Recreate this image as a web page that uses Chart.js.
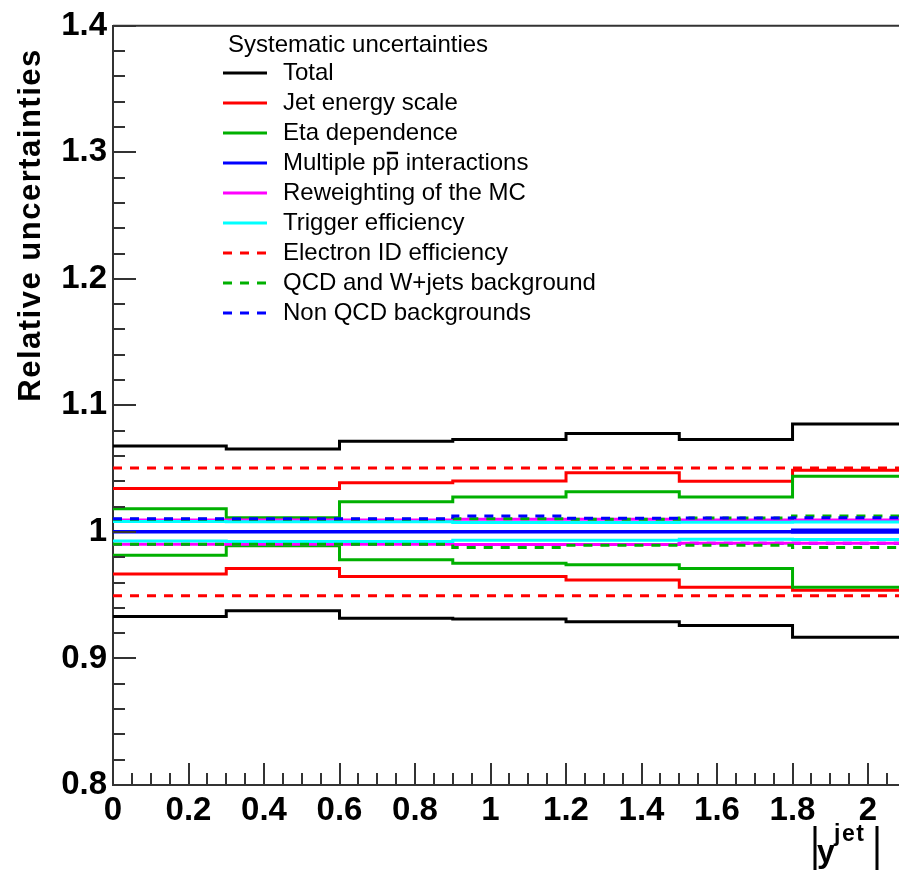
<!DOCTYPE html>
<html>
<head>
<meta charset="utf-8">
<script src="https://cdn.jsdelivr.net/npm/chart.js@4.4.1/dist/chart.umd.min.js"></script>
<style>
  html, body { margin: 0; padding: 0; background: #fff; overflow: hidden; }
  #wrap { width: 899px; height: 873px; }
</style>
</head>
<body>
<div id="wrap"><canvas id="c" width="899" height="873"></canvas></div>
<script>
// ── Data ───────────────────────────────────────────────────────────────────
// bin edges in |y_jet|, 7 bins of 0.3
const binEdges = [0, 0.3, 0.6, 0.9, 1.2, 1.5, 1.8, 2.1];

const totalUp   = [1.068, 1.0656, 1.0717, 1.073, 1.0777, 1.073, 1.0853];
const totalLo   = [0.9331, 0.9378, 0.9317, 0.9312, 0.929, 0.926, 0.9168];
const jesUp     = [1.0344, 1.0344, 1.0388, 1.0402, 1.0467, 1.040, 1.0488];
const jesLo     = [0.9667, 0.9711, 0.9648, 0.9648, 0.962, 0.9562, 0.954];
const etaUp     = [1.0184, 1.0112, 1.0239, 1.0276, 1.0318, 1.0276, 1.044];
const etaLo     = [0.9816, 0.989, 0.978, 0.9753, 0.974, 0.9711, 0.9562];
const mpiUp     = [1.0003, 1.0003, 1.0003, 1.0003, 1.0003, 1.0003, 1.0016];
const mpiLo     = [0.9999, 0.9999, 0.9999, 0.9999, 0.9999, 0.9999, 0.9998];
const reweiUp   = [1.0094, 1.0094, 1.0094, 1.010, 1.010, 1.0094, 1.0094];
const reweiLo   = [0.9903, 0.9903, 0.9903, 0.990, 0.990, 0.9911, 0.991];
const trigUp    = [1.0083, 1.0080, 1.0080, 1.0075, 1.0075, 1.0076, 1.0078];
const trigLo    = [0.9929, 0.9925, 0.9925, 0.9935, 0.9935, 0.9942, 0.994];
const eleUp     = [1.0505, 1.0505, 1.0505, 1.0505, 1.0505, 1.0505, 1.0505];
const eleLo     = [0.9495, 0.9495, 0.9495, 0.9495, 0.9495, 0.9495, 0.9495];
const qcdUp     = [1.010, 1.010, 1.010, 1.0105, 1.010, 1.011, 1.0126];
const qcdLo     = [0.9903, 0.9903, 0.9903, 0.9877, 0.9895, 0.9895, 0.9877];
const nonQcdUp  = [1.0105, 1.0105, 1.0105, 1.0126, 1.0108, 1.011, 1.0113];
const nonQcdLo  = [0.990, 0.990, 0.990, 0.990, 0.990, 0.991, 0.991];

const seriesNames = [
  'Total', 'Jet energy scale', 'Eta dependence', 'Multiple pp interactions',
  'Reweighting of the MC', 'Trigger efficiency', 'Electron ID efficiency',
  'QCD and W+jets background', 'Non QCD backgrounds'
];
const legendTitle = 'Systematic uncertainties';
const yTitle = 'Relative uncertainties';

const yMin = 0.8, yMax = 1.4, yMajor = 0.1, yMinor = 0.02;
const xMin = 0, xMax = 2.082, xMajor = 0.2, xMinor = 0.05;

// ── Styling ────────────────────────────────────────────────────────────────
const FONT = '"Liberation Sans", Arial, Helvetica, sans-serif';
const AXIS = '#333';
const DASH = [9, 8];

const series = [
  { name: seriesNames[0], up: totalUp,  lo: totalLo,  color: '#000000', dash: [] },
  { name: seriesNames[1], up: jesUp,    lo: jesLo,    color: '#ff0000', dash: [] },
  { name: seriesNames[2], up: etaUp,    lo: etaLo,    color: '#00b000', dash: [] },
  { name: seriesNames[3], up: mpiUp,    lo: mpiLo,    color: '#0000ff', dash: [] },
  { name: seriesNames[4], up: reweiUp,  lo: reweiLo,  color: '#ff00ff', dash: [] },
  { name: seriesNames[5], up: trigUp,   lo: trigLo,   color: '#00ffff', dash: [] },
  { name: seriesNames[6], up: eleUp,    lo: eleLo,    color: '#ff0000', dash: DASH },
  { name: seriesNames[7], up: qcdUp,    lo: qcdLo,    color: '#00b000', dash: DASH },
  { name: seriesNames[8], up: nonQcdUp, lo: nonQcdLo, color: '#0000ff', dash: DASH },
];

function toSteps(vals) {
  return binEdges.map((x, i) => ({ x, y: vals[Math.min(i, vals.length - 1)] }));
}

function mkDataset(label, vals, s) {
  // 'before' keeps the bin value flat until the next edge, then steps
  return {
    label, data: toSteps(vals), stepped: 'before',
    borderColor: s.color, borderWidth: 3, borderDash: s.dash,
    pointRadius: 0, fill: false, tension: 0,
  };
}

// first dataset is drawn on top, so go through the legend backwards
const datasets = [];
[...series].reverse().forEach(s => {
  datasets.push(mkDataset(s.name + ' up', s.up, s));
  if (s.name !== seriesNames[8]) datasets.push(mkDataset(s.name + ' down', s.lo, s));
});
datasets.push(mkDataset(seriesNames[8] + ' down', nonQcdLo, series[8]));

const isMultiple = (v, step) => Math.abs(v / step - Math.round(v / step)) < 1e-6;

// ── ROOT-style frame, inward ticks, titles and legend ──────────────────────
const rootStyle = {
  id: 'rootStyle',
  afterDraw(chart) {
    const { ctx, chartArea: a, scales: { x, y } } = chart;
    ctx.save();

    // ticks
    ctx.strokeStyle = AXIS;
    ctx.lineWidth = 2;
    ctx.setLineDash([]);
    ctx.beginPath();
    for (let k = 0; ; k++) {
      const v = yMin + k * yMinor;
      if (v > yMax + 1e-9) break;
      const py = Math.round(y.getPixelForValue(v));
      const len = isMultiple(v, yMajor) ? 23 : 12;
      ctx.moveTo(a.left, py); ctx.lineTo(a.left + len, py);
    }
    for (let k = 0; ; k++) {
      const v = xMin + k * xMinor;
      if (v > xMax + 1e-9) break;
      const px = Math.round(x.getPixelForValue(v));
      const len = isMultiple(v, xMajor) ? 22 : 12;
      ctx.moveTo(px, a.bottom); ctx.lineTo(px, a.bottom - len);
    }
    ctx.moveTo(a.left, a.top); ctx.lineTo(a.right, a.top);
    ctx.stroke();

    // y title
    ctx.fillStyle = '#000';
    ctx.save();
    ctx.translate(31, 225);
    ctx.rotate(-Math.PI / 2);
    ctx.font = 'bold 31px ' + FONT;
    ctx.letterSpacing = '1.5px';
    ctx.textAlign = 'center';
    ctx.textBaseline = 'middle';
    ctx.fillText(yTitle, 0, 0);
    ctx.restore();

    // x title |y^jet|
    ctx.save();
    ctx.strokeStyle = '#000';
    ctx.lineWidth = 3;
    ctx.beginPath();
    ctx.moveTo(815, 826); ctx.lineTo(815, 870);
    ctx.moveTo(877, 826); ctx.lineTo(877, 870);
    ctx.stroke();
    ctx.textBaseline = 'alphabetic';
    ctx.font = 'bold 32px ' + FONT;
    ctx.fillText('y', 817, 862);
    ctx.font = 'bold 23px ' + FONT;
    ctx.letterSpacing = '1.5px';
    ctx.fillText('jet', 834, 841);
    ctx.restore();

    // legend
    ctx.font = '24px ' + FONT;
    ctx.textBaseline = 'middle';
    ctx.textAlign = 'left';
    ctx.fillText(legendTitle, 228, 45);
    series.forEach((s, i) => {
      const ly = 73 + i * 30;
      ctx.strokeStyle = s.color;
      ctx.lineWidth = 3;
      ctx.setLineDash(s.dash);
      ctx.beginPath();
      ctx.moveTo(223, ly); ctx.lineTo(267, ly);
      ctx.stroke();
      ctx.fillStyle = '#000';
      ctx.fillText(s.name, 283, ly);
      if (i === 3) {
        // anti-proton bar over the second p
        const w0 = ctx.measureText('Multiple p').width;
        const wp = ctx.measureText('p').width;
        ctx.setLineDash([]);
        ctx.strokeStyle = '#000';
        ctx.lineWidth = 2.5;
        ctx.beginPath();
        ctx.moveTo(283 + w0 + 1, ly - 10); ctx.lineTo(283 + w0 + wp - 1, ly - 10);
        ctx.stroke();
      }
    });
    ctx.restore();
  }
};

const fmt = v => String(Math.round(v * 10) / 10);

new Chart(document.getElementById('c'), {
  type: 'line',
  data: { datasets },
  plugins: [rootStyle],
  options: {
    responsive: false,
    animation: false,
    devicePixelRatio: 1,
    layout: { padding: { top: 22, right: 0, left: 0, bottom: 0 } },
    plugins: { legend: { display: false }, tooltip: { enabled: false } },
    scales: {
      x: {
        type: 'linear', min: xMin, max: xMax,
        grid: { display: false, drawTicks: false },
        border: { display: true, color: AXIS, width: 2 },
        ticks: {
          stepSize: xMajor, includeBounds: false, autoSkip: false, maxRotation: 0,
          color: '#000', padding: 6, font: { family: FONT, size: 33, weight: 'bold' },
          callback: v => fmt(v),
        },
        afterFit: s => { s.height = 88; },
      },
      y: {
        type: 'linear', min: yMin, max: yMax,
        grid: { display: false, drawTicks: false },
        border: { display: true, color: AXIS, width: 2 },
        ticks: {
          stepSize: yMajor, includeBounds: false, autoSkip: false,
          color: '#000', padding: 6, font: { family: FONT, size: 33, weight: 'bold' },
          callback: v => fmt(v),
        },
        afterFit: s => { s.width = 113; },
      },
    },
  },
});
</script>
</body>
</html>
